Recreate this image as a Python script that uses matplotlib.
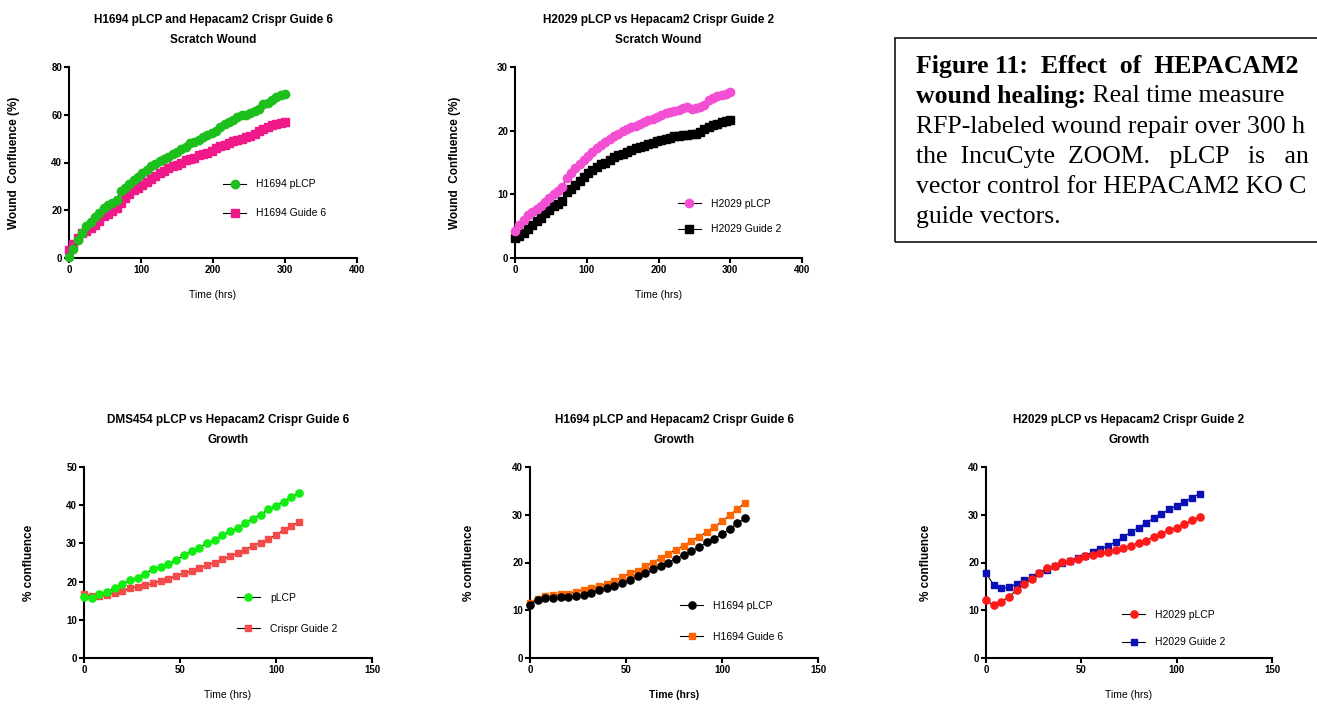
import numpy as np
import matplotlib
matplotlib.use("Agg")
import matplotlib.pyplot as plt
from matplotlib.patches import Rectangle

plt.rcParams['font.family'] = ['Liberation Sans', 'DejaVu Sans']

# scratch wound panels, time points every 6 h
t_wound = np.arange(0, 301, 6)

h1694_plcp_wound = [0.5, 3.8, 7.5, 10.5, 13.5, 15.0, 17.0, 19.0, 21.0, 22.0,
                    23.0, 24.5, 28.0, 29.5, 31.0, 32.5, 34.0, 35.5, 37.0, 38.5,
                    39.5, 40.5, 41.5, 42.5, 43.5, 44.5, 45.5, 46.5, 48.0, 48.5,
                    49.5, 50.5, 51.5, 52.3, 53.0, 55.0, 56.0, 57.0, 58.0, 59.0,
                    60.0, 60.0, 60.8, 61.5, 62.5, 64.5, 65.0, 66.0, 67.5, 68.2,
                    68.5]
h1694_g6_wound = [3.5, 6.0, 8.5, 10.5, 11.5, 12.5, 14.0, 15.5, 17.5, 18.5,
                  19.5, 21.0, 23.0, 25.0, 27.0, 28.5, 29.5, 30.5, 32.0, 33.0,
                  34.5, 35.5, 36.5, 37.5, 38.5, 39.0, 40.0, 41.0, 41.5, 42.0,
                  43.0, 43.5, 44.0, 45.0, 46.0, 47.0, 47.5, 48.0, 49.0, 49.5,
                  50.0, 50.5, 51.0, 52.0, 53.0, 54.0, 55.0, 55.5, 56.0, 56.5,
                  57.0]
h2029_plcp_wound = [4.3, 5.2, 6.0, 6.7, 7.2, 7.7, 8.2, 8.8, 9.5, 10.0,
                    10.5, 11.2, 12.6, 13.3, 14.1, 14.7, 15.4, 16.0, 16.6, 17.2,
                    17.7, 18.2, 18.7, 19.1, 19.5, 19.9, 20.2, 20.5, 20.8, 21.1,
                    21.4, 21.7, 21.9, 22.2, 22.4, 22.7, 22.9, 23.1, 23.3, 23.5,
                    23.7, 23.4, 23.5, 23.7, 24.0, 24.8, 25.1, 25.4, 25.6, 25.8,
                    26.0]
h2029_g2_wound = [3.1, 3.5, 4.0, 4.6, 5.2, 5.8, 6.3, 7.0, 7.6, 8.1,
                  8.5, 9.0, 10.3, 10.9, 11.5, 12.1, 12.7, 13.3, 13.8, 14.3,
                  14.7, 15.0, 15.4, 15.8, 16.1, 16.4, 16.7, 17.0, 17.2, 17.4,
                  17.6, 17.9, 18.1, 18.3, 18.5, 18.7, 18.9, 19.1, 19.2, 19.3,
                  19.3, 19.4, 19.5, 19.8, 20.2, 20.6, 20.9, 21.1, 21.3, 21.5,
                  21.6]

# growth panels, time points every 4 h
t_growth = np.arange(0, 113, 4)

dms454_plcp = [16.0, 15.7, 16.7, 17.3, 18.3, 19.5, 20.3, 21.0, 22.1, 23.3,
               23.8, 24.7, 25.6, 26.9, 28.0, 28.8, 30.1, 30.8, 32.1, 33.2,
               34.1, 35.3, 36.5, 37.5, 38.9, 39.9, 40.8, 42.1, 43.3]
dms454_g2 = [16.7, 16.2, 16.1, 16.5, 17.0, 17.6, 18.2, 18.7, 19.0, 19.6,
             20.2, 20.7, 21.5, 22.2, 22.8, 23.5, 24.3, 25.0, 25.8, 26.6,
             27.5, 28.4, 29.4, 30.2, 31.2, 32.2, 33.5, 34.5, 35.6]
h1694_plcp_growth = [11.2, 12.2, 12.6, 12.6, 12.7, 12.8, 12.9, 13.2, 13.7, 14.2,
                     14.7, 15.0, 15.7, 16.3, 17.1, 17.7, 18.6, 19.3, 20.0, 20.8,
                     21.6, 22.4, 23.2, 24.2, 25.0, 26.0, 27.0, 28.2, 29.3]
h1694_g6_growth = [11.6, 12.4, 12.9, 13.1, 13.3, 13.5, 13.8, 14.3, 14.6, 15.0,
                   15.6, 16.2, 16.9, 17.8, 18.3, 19.2, 20.0, 20.9, 21.8, 22.7,
                   23.5, 24.5, 25.4, 26.4, 27.5, 28.6, 29.9, 31.2, 32.5]
h2029_plcp_growth = [12.1, 11.0, 11.8, 12.8, 14.2, 15.4, 16.6, 17.9, 18.8, 19.3,
                     20.1, 20.3, 20.8, 21.3, 21.6, 22.0, 22.3, 22.7, 23.0, 23.5,
                     24.1, 24.6, 25.4, 26.0, 26.8, 27.3, 28.0, 28.8, 29.5]
h2029_g2_growth = [17.8, 15.3, 14.6, 14.8, 15.5, 16.3, 17.0, 17.8, 18.5, 19.2,
                   19.9, 20.4, 21.0, 21.4, 22.2, 22.8, 23.5, 24.3, 25.4, 26.3,
                   27.3, 28.3, 29.3, 30.1, 31.1, 31.9, 32.6, 33.6, 34.4]

# caption lines as far as they show on the page
caption_bold = 'Figure 11:  Effect  of  HEPACAM2'
caption_lead = 'wound healing:'
caption_rest = [' Real time measure',
                'RFP-labeled wound repair over 300 h',
                'the  IncuCyte  ZOOM.   pLCP   is   an',
                'vector control for HEPACAM2 KO C',
                'guide vectors.']

W, H = 1317, 704
fig = plt.figure(figsize=(W / 100, H / 100), dpi=100)


def px_axes(left, right, top, bottom):
    return fig.add_axes([left / W, 1 - bottom / H, (right - left) / W, (bottom - top) / H])


def style(ax, title, ylabel, xmax, xstep, ymax, ystep, ylab_x, xlab_bold=False):
    for s in ['top', 'right']:
        ax.spines[s].set_visible(False)
    for s in ['left', 'bottom']:
        ax.spines[s].set_linewidth(1.5)
    ax.set_xlim(0, xmax)
    ax.set_ylim(0, ymax)
    ax.set_xticks(np.arange(0, xmax + 1, xstep))
    ax.set_yticks(np.arange(0, ymax + 1, ystep))
    ax.tick_params(direction='out', length=3.5, width=1.5, pad=1.5, labelsize=7)
    for lab in ax.get_xticklabels() + ax.get_yticklabels():
        lab.set_fontweight('bold')
    ax.set_title(title, fontsize=8.5, fontweight='bold', linespacing=1.95, pad=17)
    ax.set_ylabel(ylabel, fontsize=8.5, fontweight='bold')
    ax.yaxis.set_label_coords(ylab_x, 0.5)
    ax.set_xlabel('Time (hrs)', fontsize=7.5, fontweight='bold' if xlab_bold else 'normal', va='top')
    ax.xaxis.set_label_coords(0.5, -0.165)


def series(ax, x, y, color, marker, ms, label, z):
    ax.plot(x, y, color='black', lw=0.8, marker=marker, ms=ms, mfc=color, mec=color,
            label=label, clip_on=False, zorder=z)


def legend(ax, x, y, gap):
    h, l = ax.get_legend_handles_labels()
    order = sorted(range(len(l)), key=lambda i: -h[i].get_zorder())
    ax.legend([h[i] for i in order], [l[i] for i in order], loc='center left',
              bbox_to_anchor=(x, y), frameon=False, fontsize=7.5, borderpad=0,
              borderaxespad=0, handlelength=2.2, handletextpad=1.0, labelspacing=gap)


# top left
ax1 = px_axes(69, 357, 67, 258)
series(ax1, t_wound, h1694_g6_wound, '#f0198a', 's', 5.5, 'H1694 Guide 6', 3)
series(ax1, t_wound, h1694_plcp_wound, '#1dbf1d', 'o', 6, 'H1694 pLCP', 4)
style(ax1, 'H1694 pLCP and Hepacam2 Crispr Guide 6\nScratch Wound',
      'Wound  Confluence (%)', 400, 100, 80, 20, -0.17)
legend(ax1, 0.535, 0.31, 1.8)

# top middle
ax2 = px_axes(515, 802, 67, 258)
series(ax2, t_wound, h2029_g2_wound, 'black', 's', 5.5, 'H2029 Guide 2', 3)
series(ax2, t_wound, h2029_plcp_wound, '#f24fd2', 'o', 6, 'H2029 pLCP', 4)
style(ax2, 'H2029 pLCP vs Hepacam2 Crispr Guide 2\nScratch Wound',
      'Wound  Confluence (%)', 400, 100, 30, 10, -0.188)
legend(ax2, 0.568, 0.217, 1.5)

# bottom left
ax4 = px_axes(84, 372, 467, 658)
series(ax4, t_growth, dms454_g2, '#f54a4a', 's', 5, 'Crispr Guide 2', 3)
series(ax4, t_growth, dms454_plcp, '#11ee11', 'o', 5.2, 'pLCP', 4)
style(ax4, 'DMS454 pLCP vs Hepacam2 Crispr Guide 6\nGrowth',
      '% confluence', 150, 50, 50, 10, -0.17)
legend(ax4, 0.531, 0.233, 2.0)

# bottom middle
ax5 = px_axes(530, 818, 467, 658)
series(ax5, t_growth, h1694_g6_growth, '#ff6600', 's', 5, 'H1694 Guide 6', 3)
series(ax5, t_growth, h1694_plcp_growth, 'black', 'o', 5.2, 'H1694 pLCP', 4)
style(ax5, 'H1694 pLCP and Hepacam2 Crispr Guide 6\nGrowth',
      '% confluence', 150, 50, 40, 10, -0.19, xlab_bold=True)
legend(ax5, 0.521, 0.191, 2.0)

# bottom right
ax6 = px_axes(986, 1272, 467, 658)
series(ax6, t_growth, h2029_g2_growth, '#0a10b8', 's', 5, 'H2029 Guide 2', 3)
series(ax6, t_growth, h2029_plcp_growth, '#ff1a1a', 'o', 5.2, 'H2029 pLCP', 4)
style(ax6, 'H2029 pLCP vs Hepacam2 Crispr Guide 2\nGrowth',
      '% confluence', 150, 50, 40, 10, -0.19)
legend(ax6, 0.476, 0.154, 1.7)

# caption box (runs past the right edge of the page)
fig.patches.append(Rectangle((895 / W, 1 - 242 / H), 460 / W, 204 / H,
                             transform=fig.transFigure, fill=False, lw=1.1, ec='black'))

serif = ['Liberation Serif', 'DejaVu Serif']
fs = 18.5
x0 = 916 / W
lines_y = [66 + 30.3 * i for i in range(6)]

fig.text(x0, 1 - lines_y[0] / H, caption_bold, family=serif,
         fontsize=fs, fontweight='bold', va='center')
t2 = fig.text(x0, 1 - lines_y[1] / H, caption_lead, family=serif, fontsize=fs,
              fontweight='bold', va='center')
fig.canvas.draw()
fig.text(t2.get_window_extent().x1 / W, 1 - lines_y[1] / H, caption_rest[0],
         family=serif, fontsize=fs, va='center')
for i, line in enumerate(caption_rest[1:]):
    fig.text(x0, 1 - lines_y[i + 2] / H, line, family=serif, fontsize=fs, va='center')

fig.savefig('out.png', dpi=100)
